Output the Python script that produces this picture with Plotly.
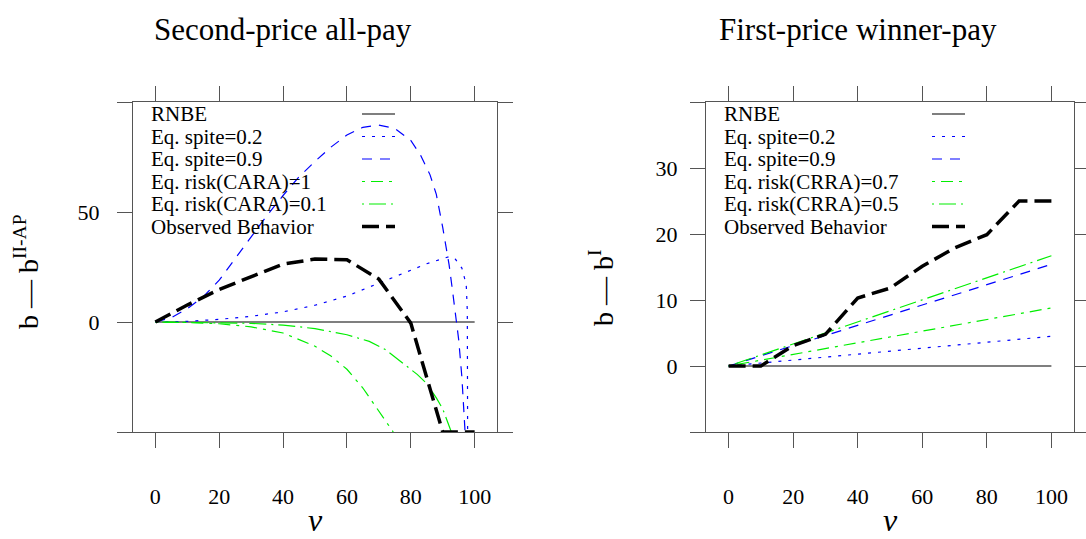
import plotly.graph_objects as go

W, H = 1086, 539
FONT = "Liberation Serif"

# ---------------- data: left panel (Second-price all-pay) ----------------
rnbe_x = [0, 100]
rnbe_y = [0, 0]

obs_x = [0, 10, 20, 30, 40, 50, 60, 70, 80, 90, 100]
obs_L = [0, 7.7, 14.8, 20.6, 26.3, 28.6, 28.3, 19.5, -0.5, -50, -50]

sp02_L_x = [0, 10, 20, 30, 40, 50, 60, 70, 80, 85, 88, 90, 92, 93, 94, 95, 96, 97, 97.4, 97.7, 97.8]
sp02_L_y = [0, 0.3, 1.2, 2.6, 4.6, 7.6, 11.8, 17.5, 23.5, 26.5, 28, 29, 29.7, 29.5, 28.5, 26.5, 24.5, 19, 16, 5, -50]

sp09_L_x = [0, 5, 10, 15, 20, 25, 30, 35, 40, 45, 50, 55, 60, 65, 70, 75, 80, 83, 86, 88, 90, 92, 93, 94, 95, 96, 97]
sp09_L_y = [0, 2, 6, 11.5, 19, 29, 39, 48.5, 57.5, 66, 73, 79.5, 85, 88.5, 89.5, 88, 82.5, 76, 67, 58, 43, 26, 15, 4, -8, -25, -50]

cara1_x = [0, 10, 20, 30, 40, 50, 55, 60, 65, 67.2, 70, 74.5]
cara1_y = [0, -0.2, -0.8, -2.2, -5, -11, -15.5, -21.5, -30, -34.7, -40.8, -50]

cara01_x = [0, 20, 30, 40, 50, 60, 67, 72, 77.5, 82, 85, 88, 90, 92.7]
cara01_y = [0, -0.2, -0.6, -1.4, -3, -5.8, -8.8, -12.5, -18.8, -23.8, -28, -34.5, -39.5, -50]

# ---------------- data: right panel (First-price winner-pay) ----------------
obs_R = [0, 0, 3.1, 4.8, 10.3, 11.8, 15.1, 17.9, 19.9, 25, 25]
lin_x = [0, 100]
sp02_R = [0, 4.5]
sp09_R = [0, 15.4]
crra07_R = [0, 8.8]
crra05_R = [0, 16.7]

# tick definitions
x_ticks = [0, 20, 40, 60, 80, 100]
yL_ticks = [-50, 0, 50, 100]
yL_text = ["", "0", "50", ""]
yR_ticks = [-10, 0, 10, 20, 30, 40]
yR_text = ["", "0", "10", "20", "30", ""]

titles = ["Second-price all-pay", "First-price winner-pay"]
legend_L = ["RNBE", "Eq. spite=0.2", "Eq. spite=0.9", "Eq. risk(CARA)=1",
            "Eq. risk(CARA)=0.1", "Observed Behavior"]
legend_R = ["RNBE", "Eq. spite=0.2", "Eq. spite=0.9", "Eq. risk(CRRA)=0.7",
            "Eq. risk(CRRA)=0.5", "Observed Behavior"]

# styles
BLUE, GREEN, BLACK, GRAY = "#0000ff", "#00ee00", "#000000", "#555555"
styles = [
    dict(color=GRAY, width=1.4, dash="solid"),
    dict(color=BLUE, width=1.2, dash="3px,7px"),
    dict(color=BLUE, width=1.2, dash="10px,8px"),
    dict(color=GREEN, width=1.2, dash="3px,6px,12px,6px"),
    dict(color=GREEN, width=1.2, dash="2px,5px,17px,5px"),
    dict(color=BLACK, width=3.5, dash="17px,7px"),
]

fig = go.Figure()

def add(x, y, st, xa, ya):
    fig.add_trace(go.Scatter(x=x, y=y, mode="lines", line=st, xaxis=xa, yaxis=ya,
                             showlegend=False, hoverinfo="skip"))

# left
add(rnbe_x, rnbe_y, styles[0], "x", "y")
add(sp02_L_x, sp02_L_y, styles[1], "x", "y")
add(sp09_L_x, sp09_L_y, styles[2], "x", "y")
add(cara1_x, cara1_y, styles[3], "x", "y")
add(cara01_x, cara01_y, styles[4], "x", "y")
add(obs_x, obs_L, styles[5], "x", "y")
# right
add(rnbe_x, rnbe_y, styles[0], "x2", "y2")
add(lin_x, sp02_R, styles[1], "x2", "y2")
add(lin_x, sp09_R, styles[2], "x2", "y2")
add(lin_x, crra07_R, styles[3], "x2", "y2")
add(lin_x, crra05_R, styles[4], "x2", "y2")
add(obs_x, obs_R, styles[5], "x2", "y2")

def px(x):
    return x / W

def py(y):
    return 1 - y / H

ydom = [py(432), py(102)]
axis_common = dict(showline=True, linecolor=GRAY, linewidth=1.3, mirror="ticks",
                   ticks="outside", ticklen=15, tickcolor=GRAY, tickwidth=1.3,
                   showgrid=False, zeroline=False, automargin=False,
                   tickfont=dict(family=FONT, size=22, color="black"))

fig.update_layout(
    width=W, height=H, margin=dict(l=0, r=0, t=0, b=0, pad=0, autoexpand=False),
    showlegend=False,
    paper_bgcolor="white", plot_bgcolor="white",
    font=dict(family=FONT, color="black"),
    xaxis=dict(domain=[px(133), px(497)], range=[-7, 107], tickvals=x_ticks,
               ticklabelstandoff=29, anchor="y", **axis_common),
    yaxis=dict(domain=ydom, range=[-50, 100], tickvals=yL_ticks, ticktext=yL_text,
               ticklabelstandoff=13, anchor="x", **axis_common),
    xaxis2=dict(domain=[px(706), px(1074)], range=[-7, 107], tickvals=x_ticks,
                ticklabelstandoff=29, anchor="y2", **axis_common),
    yaxis2=dict(domain=ydom, range=[-10, 40], tickvals=yR_ticks, ticktext=yR_text,
                ticklabelstandoff=8, anchor="x2", **axis_common),
)

ann = []
shapes = []
# titles
for t, cx in zip(titles, [283, 858]):
    ann.append(dict(text=t, x=px(cx), y=py(30), xref="paper", yref="paper",
                    showarrow=False, xanchor="center", yanchor="middle",
                    font=dict(family=FONT, size=31)))
# x axis titles
for cx in [315, 890]:
    ann.append(dict(text="<i>ν</i>", x=px(cx), y=py(520), xref="paper", yref="paper",
                    showarrow=False, xanchor="center", yanchor="middle",
                    font=dict(family=FONT, size=32)))
# y axis titles
for t, cx, cy in [("b — b<sup>II-AP</sup>", 26, 272), ("b — b<sup>I</sup>", 601, 288)]:
    ann.append(dict(text=t, x=px(cx), y=py(cy), xref="paper", yref="paper",
                    showarrow=False, xanchor="center", yanchor="middle", textangle=-90,
                    font=dict(family=FONT, size=28)))
# keys
rows = [114, 136.5, 159, 181.5, 204, 226.5]
for labels, tx, sx0, sx1 in [(legend_L, 149, 362, 395), (legend_R, 722, 932, 965)]:
    for lab, ry, st in zip(labels, rows, styles):
        ann.append(dict(text=lab, x=px(tx), y=py(ry), xref="paper", yref="paper",
                        showarrow=False, xanchor="left", yanchor="middle",
                        font=dict(family=FONT, size=21)))
        shapes.append(dict(type="line", xref="paper", yref="paper",
                           x0=px(sx0), x1=px(sx1), y0=py(ry), y1=py(ry),
                           line=st))
fig.update_layout(annotations=ann, shapes=shapes)

fig.write_html("out.html")
